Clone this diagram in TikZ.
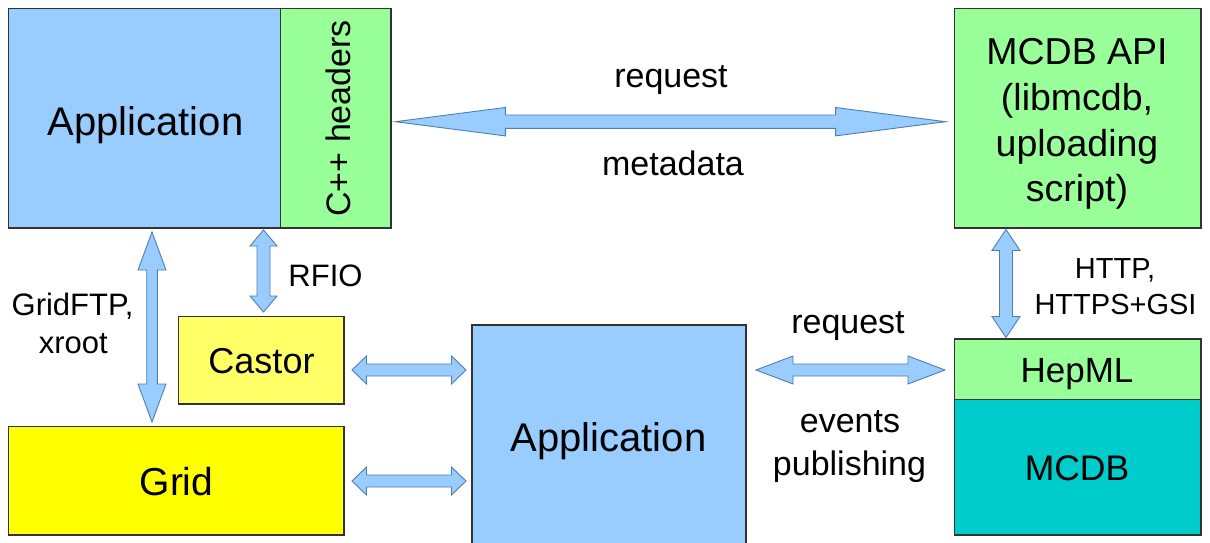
\documentclass[tikz,border=0pt]{standalone}
\usepackage{fontspec}
\setmainfont{Liberation Sans}
\usetikzlibrary{calc}
\definecolor{appblue}{HTML}{99CCFF}
\definecolor{apigreen}{HTML}{99FF99}
\definecolor{castorye}{HTML}{FFFF66}
\definecolor{gridye}{HTML}{FFFF00}
\definecolor{mcdbteal}{HTML}{00CCCC}
\definecolor{boxline}{HTML}{333333}
\definecolor{arrline}{HTML}{4F7FB0}
\definecolor{arrfill}{HTML}{99CCFF}
\newcommand\fsz[1]{\fontsize{#1}{#1}\selectfont}
\newcommand\dblarrow[5]{%
  \draw[fatarrow] (#1)
   -- ($(#1)!#5!(#2)!#4!90:(#2)$) -- ($(#1)!#5!(#2)!#3!90:(#2)$)
   -- ($(#2)!#5!(#1)!#3!-90:(#1)$) -- ($(#2)!#5!(#1)!#4!-90:(#1)$)
   -- (#2)
   -- ($(#2)!#5!(#1)!#4!90:(#1)$) -- ($(#2)!#5!(#1)!#3!90:(#1)$)
   -- ($(#1)!#5!(#2)!#3!-90:(#2)$) -- ($(#1)!#5!(#2)!#4!-90:(#2)$)
   -- cycle;}
\tikzset{
  box/.style={draw=boxline, line width=1.1pt, inner sep=0pt, outer sep=0pt, anchor=north west},
  fatarrow/.style={draw=arrline, fill=arrfill, line width=0.9pt, line join=miter},
  lbl/.style={anchor=base, inner sep=0pt, text=black},
}
\begin{document}
\begin{tikzpicture}[x=1pt,y=-1pt]
\useasboundingbox (0,0) rectangle (1210,543);
\clip (0,0) rectangle (1210,543);
% boxes
\node[box, fill=appblue, minimum width=272.4pt, minimum height=219.7pt] (app1) at (8.3,8.3) {};
\node[box, fill=apigreen, minimum width=110.3pt, minimum height=219.7pt] (cpp) at (280.7,8.3) {};
\node[box, fill=apigreen, minimum width=246.7pt, minimum height=219.7pt] (api) at (954.3,8.3) {};
\node[box, fill=castorye, minimum width=165.3pt, minimum height=87.3pt] (castor) at (178.7,316.7) {};
\node[box, fill=gridye, minimum width=335.7pt, minimum height=108.3pt] (grid) at (8.3,426.7) {};
\node[box, fill=appblue, minimum width=274pt, minimum height=230pt] (app2) at (472,325) {};
\node[box, fill=apigreen, minimum width=246.7pt, minimum height=60.3pt] (hepml) at (954.3,339) {};
\node[box, fill=mcdbteal, minimum width=246.7pt, minimum height=135.7pt] (mcdb) at (954.3,399.3) {};
% box texts
\node[lbl, font=\fsz{40}] (tapp1) at (145.5,135) {Application};
\node[lbl, font=\fsz{34}, rotate=90] (tcpp) at (350,118.3) {C++ headers};
\node[lbl, font=\fsz{37.5}] (tapi1) at (1077,65) {MCDB API};
\node[lbl, font=\fsz{37.5}] (tapi2) at (1077,110.5) {(libmcdb,};
\node[lbl, font=\fsz{37.5}] (tapi3) at (1077,156) {uploading};
\node[lbl, font=\fsz{37.5}] (tapi4) at (1077,201.5) {script)};
\node[lbl, font=\fsz{36}] (tcastor) at (261.5,373.3) {Castor};
\node[lbl, font=\fsz{39}] (tgrid) at (176.5,495.7) {Grid};
\node[lbl, font=\fsz{40}] (tapp2) at (608.5,451.7) {Application};
\node[lbl, font=\fsz{35}] (thepml) at (1077,382.3) {HepML};
\node[lbl, font=\fsz{35.5}] (tmcdb) at (1077,480) {MCDB};
% connector labels
\node[lbl, font=\fsz{34}] (lreq1) at (671,87.3) {request};
\node[lbl, font=\fsz{34}] (lmeta) at (673,175) {metadata};
\node[lbl, font=\fsz{31}] (lgrid1) at (72.5,315) {GridFTP,};
\node[lbl, font=\fsz{31}] (lgrid2) at (73.3,353.3) {xroot};
\node[lbl, font=\fsz{31}] (lrfio) at (325.5,286.7) {RFIO};
\node[lbl, font=\fsz{34}] (lreq2) at (848,333.3) {request};
\node[lbl, font=\fsz{34}] (lev1) at (850,432.7) {events};
\node[lbl, font=\fsz{34}] (lev2) at (849.5,475) {publishing};
\node[lbl, font=\fsz{29}] (lhttp1) at (1115,278.3) {HTTP,};
\node[lbl, font=\fsz{29}] (lhttp2) at (1115.5,314.3) {HTTPS+GSI};
% arrow end points
\coordinate (t1) at (395.3,121.7);  \coordinate (t2) at (945.6,121.7);
\coordinate (g1) at (152,232);      \coordinate (g2) at (152,422);
\coordinate (r1) at (263.5,230);    \coordinate (r2) at (263.5,312);
\coordinate (c1) at (352,370);      \coordinate (c2) at (466,370);
\coordinate (d1) at (352,481);      \coordinate (d2) at (466,481);
\coordinate (q1) at (756,370);      \coordinate (q2) at (945,370);
\coordinate (h1) at (1006,229.5);   \coordinate (h2) at (1006,337.5);
% arrows
\dblarrow{t1}{t2}{6.7pt}{14.2pt}{110pt}
\dblarrow{g1}{g2}{5.3pt}{14pt}{38pt}
\dblarrow{r1}{r2}{6.5pt}{13.5pt}{16pt}
\dblarrow{c1}{c2}{6pt}{14pt}{14.5pt}
\dblarrow{d1}{d2}{6pt}{14pt}{14.5pt}
\dblarrow{q1}{q2}{6pt}{14pt}{37pt}
\dblarrow{h1}{h2}{6.5pt}{14pt}{21pt}
\end{tikzpicture}
\end{document}
